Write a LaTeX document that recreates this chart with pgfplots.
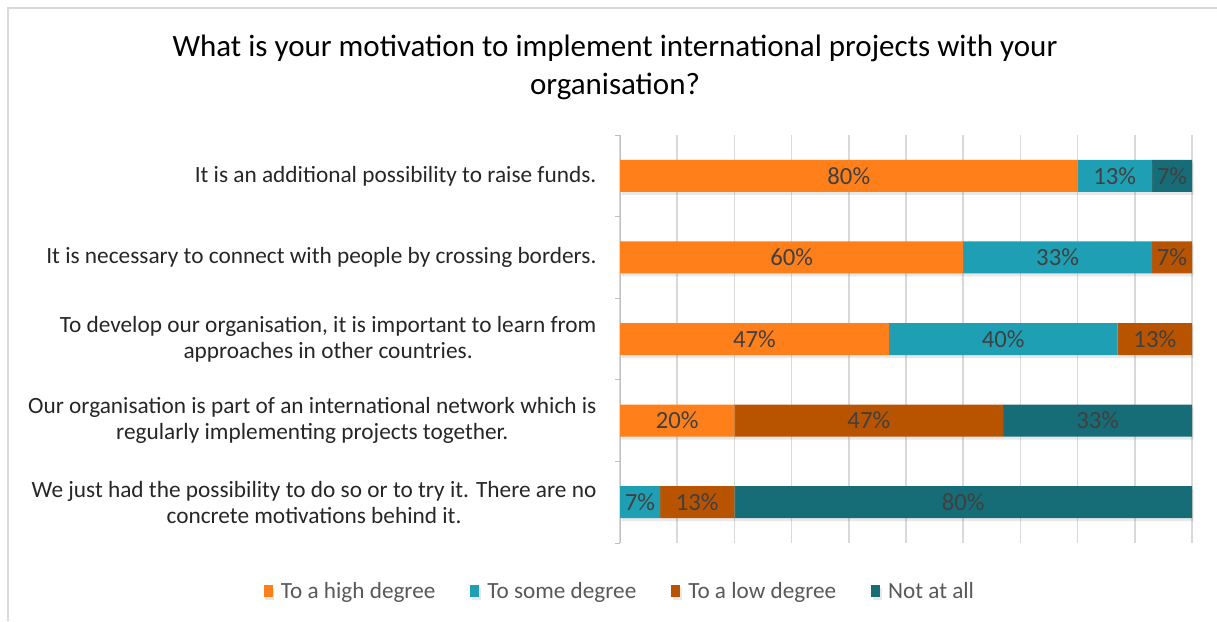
\documentclass[border=0pt]{standalone}
\usepackage{pgfplots}
\pgfplotsset{compat=1.18}
\usetikzlibrary{shadows}
\usepackage{fontspec}
\setmainfont{Carlito}
\definecolor{cHigh}{HTML}{FF7F1A}
\definecolor{cSome}{HTML}{1F9FB4}
\definecolor{cLow}{HTML}{B85400}
\definecolor{cNot}{HTML}{166C77}
\definecolor{gridc}{HTML}{D9D9D9}
\definecolor{axc}{HTML}{BFBFBF}
\definecolor{lblc}{HTML}{404040}
\begin{document}
\begin{tikzpicture}[x=1pt,y=1pt]
\useasboundingbox (0,0) rectangle (1217,621);
\draw[gridc, line width=2pt] (8,0) -- (8,613) -- (1217,613);
\node[font=\fontsize{31}{38}\selectfont, align=center, text=black] at (615,554) {What is your motivation to implement international projects with your\\organisation?};
\begin{axis}[
  at={(620pt,78pt)}, anchor=south west,
  scale only axis, width=572pt, height=408pt,
  xbar stacked, bar width=32pt,
  xmin=0, xmax=100, ymin=-0.5, ymax=4.5, y dir=reverse,
  xtick={0,10,...,100}, xticklabels={}, xmajorgrids,
  major grid style={gridc, line width=1.5pt},
  axis x line*=bottom, x axis line style={draw=none},
  axis y line*=left,
  y axis line style={axc, line width=1pt, -},
  tickwidth=0pt,
  ytick={0,1,2,3,4},
  extra y ticks={-0.5,0.5,1.5,2.5,3.5,4.5}, extra y tick labels={},
  extra y tick style={tickwidth=5pt, tick align=outside, tick style={axc, line width=1pt}},
  yticklabels={{It is an additional possibility to raise funds.},
               {It is necessary to connect with people by crossing borders.},
               {To develop our organisation, it is important to learn from\\approaches in other countries.},
               {Our organisation is part of an international network which is\\regularly implementing projects together.},
               {We just had the possibility to do so or to try it. There are no\\concrete motivations behind it.}},
  yticklabel style={font=\fontsize{23.3}{26}\selectfont, align=center, text=black!85, xshift=-20pt},
  legend style={at={(0,-0.1176)}, anchor=center, draw=none, legend columns=4,
    font=\fontsize{23.2}{26}\selectfont, text=black!65,
    /tikz/every odd column/.append style={column sep=6pt},
    /tikz/every even column/.append style={column sep=33pt}},
  legend image code/.code={\fill[#1] (0pt,-6pt) rectangle (9pt,6pt);},
  clip=false,
]
\addplot[fill=cHigh, draw=none, drop shadow={shadow xshift=1.5pt, shadow yshift=-3pt, opacity=0.18}] coordinates {(80,0) (60,1) (47,2) (20,3) (0,4)};
\addplot[fill=cSome, draw=none, drop shadow={shadow xshift=1.5pt, shadow yshift=-3pt, opacity=0.18}] coordinates {(13,0) (33,1) (40,2) (0,3) (7,4)};
\addplot[fill=cLow, draw=none, drop shadow={shadow xshift=1.5pt, shadow yshift=-3pt, opacity=0.18}] coordinates {(0,0) (7,1) (13,2) (47,3) (13,4)};
\addplot[fill=cNot, draw=none, drop shadow={shadow xshift=1.5pt, shadow yshift=-3pt, opacity=0.18}] coordinates {(7,0) (0,1) (0,2) (33,3) (80,4)};
\legend{To a high degree, To some degree, To a low degree, Not at all}
\end{axis}
\begin{axis}[
  at={(620pt,78pt)}, anchor=south west,
  scale only axis, width=572pt, height=408pt,
  xmin=0, xmax=100, ymin=-0.5, ymax=4.5, y dir=reverse,
  hide axis, clip=false,
]
\addplot[draw=none, mark=none, nodes near coords, point meta=explicit symbolic,
  every node near coord/.style={anchor=center, font=\fontsize{24.7}{24.7}\selectfont, text=lblc}]
  coordinates {
  (40,0)[80\%] (86.5,0)[13\%] (96.5,0)[7\%]
  (30,1)[60\%] (76.5,1)[33\%] (96.5,1)[7\%]
  (23.5,2)[47\%] (67,2)[40\%] (93.5,2)[13\%]
  (10,3)[20\%] (43.5,3)[47\%] (83.5,3)[33\%]
  (3.5,4)[7\%] (13.5,4)[13\%] (60,4)[80\%]
  };
\end{axis}
\end{tikzpicture}
\end{document}
